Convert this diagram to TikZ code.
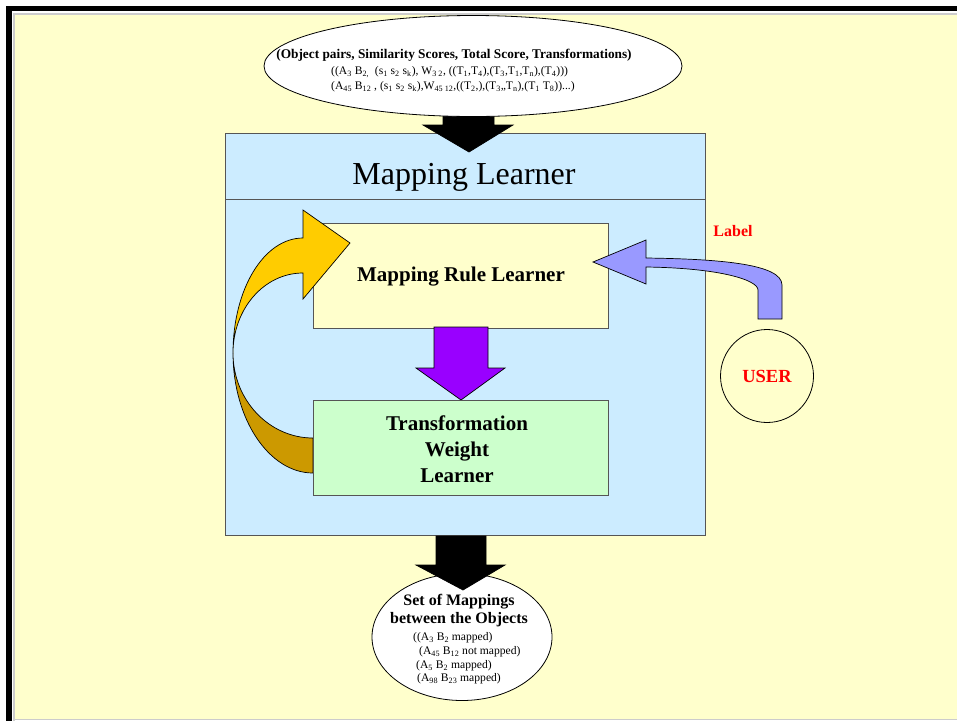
\documentclass[tikz,border=0pt]{standalone}
\usepackage{fontspec}
\setmainfont{Liberation Serif}
\usetikzlibrary{shapes.geometric}
\definecolor{pagebg}{HTML}{FFFFCC}
\definecolor{learnerbg}{HTML}{CCECFF}
\definecolor{rulebg}{HTML}{FFFFCC}
\definecolor{weightbg}{HTML}{CCFFCC}
\definecolor{edgegray}{HTML}{555555}
\definecolor{loopfront}{HTML}{FFCC00}
\definecolor{loopback}{HTML}{CC9900}
\definecolor{userarrow}{HTML}{9999FF}
\definecolor{flowpurple}{HTML}{9900FF}
\definecolor{userred}{HTML}{FF0000}
\newcommand{\lsub}[1]{\textsubscript{#1}}
\tikzset{
  panel/.style={draw=edgegray, line width=1pt},
  blockarrow/.style={draw=black, line width=0.7pt, line join=miter},
  smalltext/.style={font=\fontsize{11.6}{13}\selectfont, inner sep=0pt},
  boldtext/.style={font=\fontsize{21}{26}\selectfont\bfseries, align=center, inner sep=0pt},
}
\begin{document}
\begin{tikzpicture}[x=1pt,y=-1pt]
\useasboundingbox (0,0) rectangle (957,721);
% page frame
\fill[white] (0,0) rectangle (957,721);
\fill[pagebg] (14,14) rectangle (957,719);
\draw[black!20, line width=1.5pt] (14,721) -- (14,14) -- (957,14);
\draw[black!20, line width=1pt] (14,719) -- (957,719);
\fill[black] (6,6) rectangle (957,11);
\fill[black] (6,6) rectangle (12,721);

% main learner panel
\node[panel, fill=learnerbg, rectangle, minimum width=480pt, minimum height=402pt, inner sep=0pt, anchor=north west] (learner) at (225,133) {};
\draw[panel] (225,199) -- (705,199);
\node[font=\fontsize{32}{36}\selectfont, inner sep=0pt] (title) at (464,177) {Mapping Learner};

% input arrow
\filldraw[blockarrow, fill=black] (443,100) -- (494,100) -- (494,125) -- (513,125) -- (469,152) -- (423,125) -- (443,125) -- cycle;

% input ellipse
\node[ellipse, draw=black, line width=0.8pt, fill=white, minimum width=418pt, minimum height=101pt, inner sep=0pt] (input) at (473,66) {};
\node[font=\fontsize{13.3}{16}\selectfont\bfseries, inner sep=0pt] (inhead) at (454,55) {(Object pairs, Similarity Scores, Total Score, Transformations)};
\node[smalltext, anchor=west] (inlineA) at (331,72) {((A\lsub{3} B\lsub{2,}\ \ (s\lsub{1} s\lsub{2} s\lsub{k}), W\lsub{3 2}, ((T\lsub{1},T\lsub{4}),(T\lsub{3},T\lsub{1},T\lsub{n}),(T\lsub{4})))};
\node[smalltext, anchor=west] (inlineB) at (331,87) {(A\lsub{45} B\lsub{12} , (s\lsub{1} s\lsub{2} s\lsub{k}),W\lsub{45 12},((T\lsub{2},),(T\lsub{3},,T\lsub{n}),(T\lsub{1} T\lsub{8}))...)};

% rule learner
\node[panel, fill=rulebg, minimum width=295pt, minimum height=105pt, inner sep=0pt, anchor=north west] (rule) at (313,223) {};
\node[boldtext] (ruletext) at (461,277) {Mapping Rule Learner};

% feedback loop, back face then front face
\filldraw[blockarrow, fill=loopback] (233,353) .. controls (233,419) and (269,473) .. (313,473) -- (313,438) .. controls (269,438) and (233,400) .. cycle;
\filldraw[blockarrow, fill=loopfront] (233,353) .. controls (233,289) and (264,238) .. (303,238) -- (303,210) -- (350,243) -- (303,299) -- (303,273) .. controls (264,273) and (233,309) .. cycle;

% rule to weight arrow
\filldraw[blockarrow, fill=flowpurple] (434,327) -- (488,327) -- (488,368) -- (505,368) -- (461,400) -- (416,368) -- (434,368) -- cycle;

% weight learner
\node[panel, fill=weightbg, minimum width=295pt, minimum height=95pt, inner sep=0pt, anchor=north west] (weight) at (313,400) {};
\node[boldtext] (weighttext) at (457,449) {Transformation\\Weight\\Learner};

% output ellipse
\node[ellipse, draw=black, line width=0.8pt, fill=white, minimum width=180pt, minimum height=127pt, inner sep=0pt] (output) at (462,637) {};
\filldraw[blockarrow, fill=black] (436,536) -- (486,536) -- (486,565) -- (505,565) -- (463,590) -- (416,565) -- (436,565) -- cycle;
\node[font=\fontsize{16}{19}\selectfont\bfseries, inner sep=0pt] (outheadA) at (459,602) {Set of Mappings};
\node[font=\fontsize{16}{19}\selectfont\bfseries, inner sep=0pt] (outheadB) at (459,620) {between the Objects};
\node[smalltext, anchor=west] (outA) at (413,638) {((A\lsub{3} B\lsub{2} mapped)};
\node[smalltext, anchor=west] (outB) at (419,652) {(A\lsub{45} B\lsub{12} not mapped)};
\node[smalltext, anchor=west] (outC) at (416,666) {(A\lsub{5} B\lsub{2} mapped)};
\node[smalltext, anchor=west] (outD) at (417,679) {(A\lsub{98} B\lsub{23} mapped)};

% user feedback
\filldraw[blockarrow, fill=userarrow] (593,262) -- (646,240) -- (646,258) .. controls (720,259) and (782,264) .. (782,285) -- (782,319) -- (758,319) -- (758,290) .. controls (758,280) and (720,268) .. (646,267) -- (646,284) -- cycle;
\node[font=\fontsize{16}{19}\selectfont\bfseries, text=userred, inner sep=0pt] (label) at (733,231) {Label};
\node[circle, draw=black, line width=0.8pt, minimum size=93pt, inner sep=0pt] (user) at (767,376) {};
\node[font=\fontsize{18.5}{22}\selectfont\bfseries, text=userred, inner sep=0pt] (usertext) at (user.center) {USER};
\end{tikzpicture}
\end{document}
